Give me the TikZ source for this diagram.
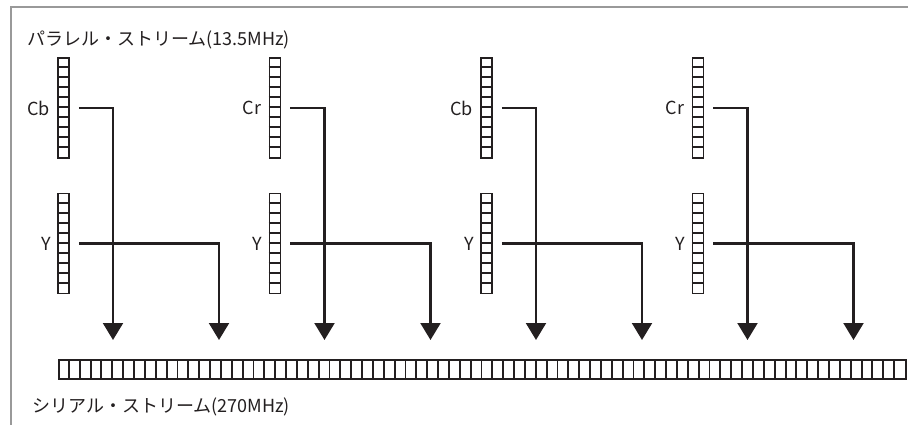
\documentclass[tikz,border=0pt]{standalone}
\usepackage{fontspec}
\setmainfont{Noto Sans CJK JP}
\usetikzlibrary{arrows.meta,positioning}

\definecolor{ink}{HTML}{231F20}
\tikzset{
  cell/.style={draw=ink,line width=1.9pt},
  stack/.style={cell,minimum width=11pt,minimum height=100pt,inner sep=0pt},
  link/.style={draw=ink,line width=2.1pt},
  feed/.style={link,-{Triangle[width=20pt,length=17pt]}},
  lbl/.style={font=\fontsize{18}{20}\selectfont,text=ink,inner sep=0pt},
}

\begin{document}
\begin{tikzpicture}[x=1pt,y=-1pt]
    \useasboundingbox (0,0) rectangle (908,425);
    \draw[black!40,line width=1.8pt] (11,425) -- (11,7) -- (908,7);

    \node[lbl,anchor=west] (ptitle) at (27,40) {パラレル・ストリーム(13.5MHz)};

    % serial stream, 78 words
    \node[cell,minimum width=847pt,minimum height=19pt,inner sep=0pt,anchor=north west] (ser) at (58,359) {};
    \foreach \k in {1,...,77}
        \draw[cell] ([xshift={\k*10.859}]ser.north west) -- ([xshift={\k*10.859}]ser.south west);
    \node[lbl,anchor=west] (stitle) at (32,407) {シリアル・ストリーム(270MHz)};

    % parallel streams
    \foreach \x/\c [count=\i] in {58/Cb,269.5/Cr,481/Cb,692.5/Cr}{
        \node[stack] (c\i) at (\x+5.5,108) {};
        \node[stack] (y\i) at (\x+5.5,243.5) {};
        \foreach \j in {1,...,9}{
            \draw[cell] ([yshift={-\j*10}]c\i.north west) -- ([yshift={-\j*10}]c\i.north east);
            \draw[cell] ([yshift={-\j*10}]y\i.north west) -- ([yshift={-\j*10}]y\i.north east);
        }
        \node[lbl,left=7pt of c\i] (cl\i) {\c};
        \node[lbl,left=6pt of y\i] (yl\i) {Y};
        \coordinate (a\i) at (\x+55,340);
        \coordinate (b\i) at (\x+161,340);
        \draw[feed] ([xshift=9pt]y\i.east) -| (b\i);
        \draw[feed] ([xshift=9pt]c\i.east) -| (a\i);
    }
\end{tikzpicture}
\end{document}
